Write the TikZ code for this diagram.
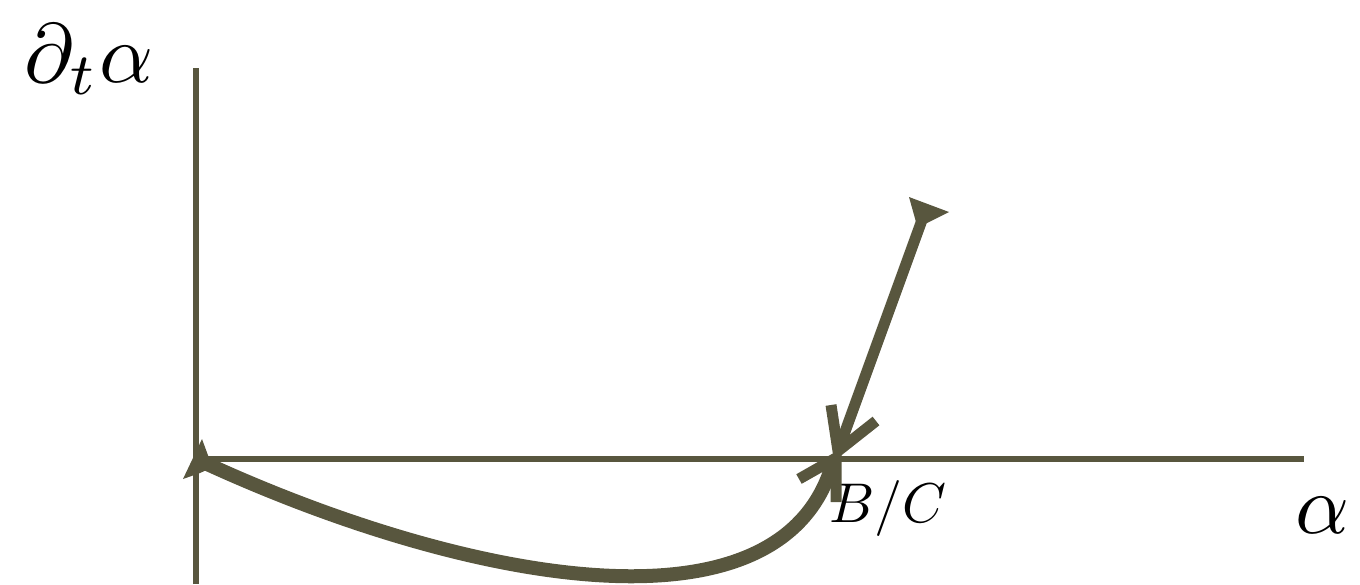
\documentclass[tikz,border=0pt]{standalone}
\usepackage{graphicx}
\begin{document}
\begin{tikzpicture}[x=1pt,y=-1pt,
  axis/.style={draw=olive, line width=5.5pt},
  flow/.style={draw=olive, line width=14pt},
  ray/.style={draw=olive, line width=11pt},
  barb/.style={draw=olive, line width=11pt, line join=miter, miter limit=10},
  lab/.style={text=black, inner sep=0pt, anchor=base}]
\definecolor{olive}{RGB}{88,86,62}
\useasboundingbox (0,0) rectangle (1360,584);
% axes
\coordinate (O) at (196,459);
\coordinate (ytop) at (196,68);
\coordinate (ybot) at (196,584);
\coordinate (xend) at (1304,459);
\draw[axis] (ybot) -- (ytop);
\draw[axis] (O) -- (xend);
% labels
\node[lab] (ylab) at (89,82) {\scalebox{8.4}{$\partial_t\alpha$}};
\node[lab] (xlab) at (1323,533) {\scalebox{8.4}{$\alpha$}};
\node[lab] (bc) at (888,522) {\scalebox{5.6}{$B/C$}};
% curve from origin to B/C
\coordinate (cs) at (205,463);
\coordinate (ce) at (833,462);
\draw[flow] (cs) .. controls (460,580) and (782,645) .. (ce);
\fill[olive] (202,439) -- (209,458) -- (211,468) -- (200,473) -- (183,479) -- cycle;
\draw[barb] (799,479) -- (836,458) -- (836,502);
% straight arrow to B/C
\coordinate (rs) at (922,220);
\coordinate (rt) at (838,451);
\draw[ray] (rs) -- (rt);
\draw[barb] (831,405) -- (rt) -- (876,421);
\fill[olive] (909,197) -- (949,212) -- (927,223) -- (916,222) -- cycle;
\end{tikzpicture}
\end{document}
